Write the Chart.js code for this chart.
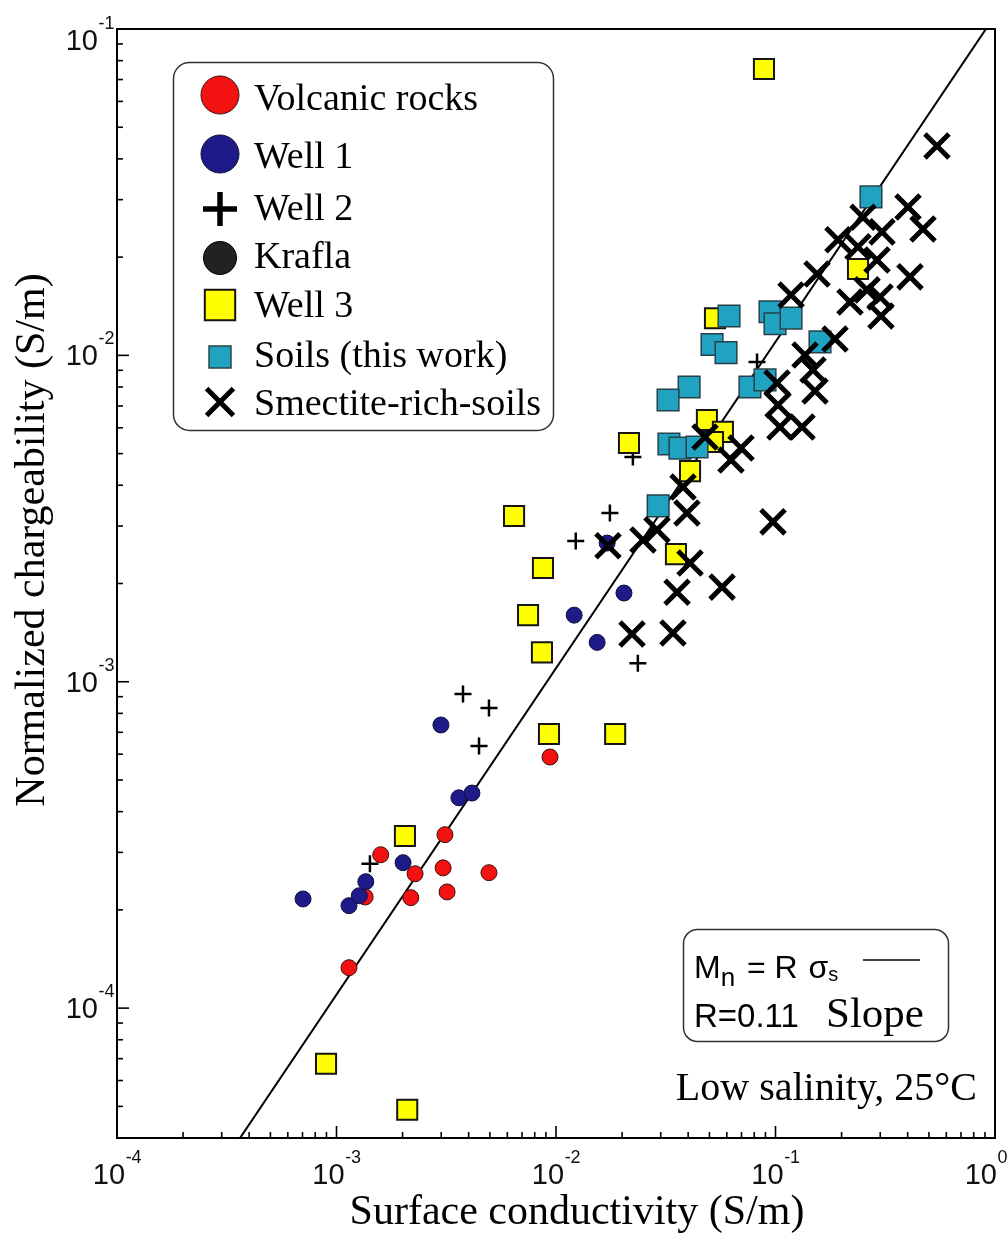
<!DOCTYPE html>
<html><head><meta charset="utf-8">
<script src="https://cdn.jsdelivr.net/npm/chart.js@4/dist/chart.umd.min.js"></script>
<style>html,body{margin:0;padding:0;background:#fff}#wrap{width:1008px;height:1238px}</style>
</head><body><div id="wrap"><canvas id="c" width="1008" height="1238"></canvas></div>
<script>
// ---------- DATA ----------
const seriesNames = ['Volcanic rocks','Well 1','Well 2','Krafla','Well 3','Soils (this work)','Smectite-rich-soils'];
const xTickExponents = [-4,-3,-2,-1,0];
const yTickExponents = [-4,-3,-2,-1];
const xTitle = 'Surface conductivity (S/m)';
const yTitle = 'Normalized chargeability (S/m)';
const fitR = 0.11;
const fitX = [3.0e-4, 1.0];

const volcanicRocks = [[1.14e-3,1.33e-4],[1.35e-3,2.19e-4],[1.59e-3,2.95e-4],[2.18e-3,2.18e-4],[2.28e-3,2.58e-4],
  [3.06e-3,2.69e-4],[3.12e-3,3.40e-4],[3.19e-3,2.27e-4],[4.95e-3,2.60e-4],[9.39e-3,5.88e-4]];
const well1 = [[7.04e-4,2.16e-4],[1.14e-3,2.06e-4],[1.27e-3,2.21e-4],[1.36e-3,2.44e-4],[2.01e-3,2.79e-4],
  [2.99e-3,7.37e-4],[3.61e-3,4.41e-4],[4.14e-3,4.56e-4],[1.21e-2,1.60e-3],[1.54e-2,1.32e-3],[1.71e-2,2.66e-3],[2.04e-2,1.87e-3]];
const well2 = [[1.42e-3,2.77e-4],[3.77e-3,9.18e-4],[4.46e-3,6.36e-4],[4.95e-3,8.31e-4],[1.23e-2,2.70e-3],
  [1.76e-2,3.29e-3],[2.24e-2,4.88e-3],[2.36e-2,1.14e-3],[8.24e-2,9.54e-3]];
const krafla = [];
const well3 = [[8.86e-2,7.54e-2],[0.2376,1.84e-2],[5.30e-2,1.30e-2],[2.15e-2,5.39e-3],[4.87e-2,6.34e-3],[5.76e-2,5.83e-3],
  [5.19e-2,5.43e-3],[4.08e-2,4.42e-3],[6.44e-3,3.22e-3],[8.72e-3,2.23e-3],[7.46e-3,1.60e-3],[8.63e-3,1.23e-3],
  [3.52e-2,2.46e-3],[9.29e-3,6.92e-4],[1.86e-2,6.92e-4],[2.05e-3,3.37e-4],[8.96e-4,6.75e-5],[2.10e-3,4.88e-5]];
const soils = [[0.2723,3.06e-2],[6.14e-2,1.32e-2],[9.44e-2,1.36e-2],[9.95e-2,1.25e-2],[0.1177,1.30e-2],[0.1595,1.10e-2],
  [5.14e-2,1.08e-2],[5.95e-2,1.02e-2],[4.04e-2,8.00e-3],[3.24e-2,7.30e-3],[7.65e-2,8.00e-3],[8.96e-2,8.41e-3],
  [3.27e-2,5.35e-3],[3.67e-2,5.20e-3],[4.39e-2,5.24e-3],[2.92e-2,3.46e-3]];
const smectite = [[0.544,4.38e-2],[0.4015,2.85e-2],[0.47,2.44e-2],[0.2504,2.65e-2],[0.3056,2.39e-2],[0.1926,2.26e-2],
  [0.2376,2.15e-2],[0.29,1.96e-2],[0.41,1.74e-2],[0.1546,1.776e-2],[0.1177,1.531e-2],[0.2185,1.458e-2],
  [0.2612,1.587e-2],[0.2993,1.51e-2],[0.3024,1.32e-2],[0.1867,1.122e-2],[0.1363,1.003e-2],[0.1482,9.02e-3],
  [0.1514,7.78e-3],[0.1016,8.23e-3],[0.1027,7.05e-3],[0.1048,6.03e-3],[0.1321,6.03e-3],[4.774e-2,5.62e-3],
  [6.965e-2,5.20e-3],[6.27e-2,4.78e-3],[3.79e-2,3.95e-3],[3.95e-2,3.29e-3],[2.884e-2,2.92e-3],[2.491e-2,2.72e-3],
  [1.725e-2,2.61e-3],[4.08e-2,2.31e-3],[5.71e-2,1.95e-3],[3.56e-2,1.88e-3],[9.74e-2,3.09e-3],[2.22e-2,1.40e-3],[3.41e-2,1.41e-3]];

// ---------- CHART ----------
const toXY = arr => arr.map(p => ({x:p[0], y:p[1]}));
const fitLine = fitX.map(v => ({x:v, y:fitR*v}));

const styles = [
  {pointStyle:'circle', radius:8, bg:'#f21212', border:'#3a1010', bw:1, order:6},
  {pointStyle:'circle', radius:8, bg:'#1e1a88', border:'#10103a', bw:1, order:5},
  {pointStyle:'cross', radius:8.5, bg:'#000', border:'#000', bw:2.5, order:3},
  {pointStyle:'circle', radius:8, bg:'#222222', border:'#000', bw:1, order:4},
  {pointStyle:'rect', radius:14.2, bg:'#ffff00', border:'#151515', bw:2, order:2},
  {pointStyle:'rect', radius:15.3, bg:'#1fa3c1', border:'#27414a', bw:1.5, order:1},
  {pointStyle:'crossRot', radius:17, bg:'#000', border:'#000', bw:5, order:0}
];
const seriesData = [volcanicRocks, well1, well2, krafla, well3, soils, smectite];

const datasets = seriesData.map((d,i) => ({
  label: seriesNames[i], data: toXY(d), order: styles[i].order,
  pointStyle: styles[i].pointStyle, pointRadius: styles[i].radius,
  backgroundColor: styles[i].bg, borderColor: styles[i].border, borderWidth: styles[i].bw,
  pointBackgroundColor: styles[i].bg, pointBorderColor: styles[i].border, pointBorderWidth: styles[i].bw,
  showLine:false
}));
datasets.push({label:'fit', data: fitLine, order: 7, showLine:true, pointRadius:0, borderColor:'#000',
  borderWidth:2, backgroundColor:'#000', fill:false});

const legendMarkers = [
  {radius:19, bw:1}, {radius:19, bw:1}, {radius:17, bw:5.5}, {radius:16.5, bw:1},
  {radius:21.5, bw:2}, {radius:15.5, bw:1.5}, {radius:19, bw:5}
];

function drawSup(ctx, base, sup, x, y, align) {
  ctx.font = '29px "Liberation Sans", Arial, sans-serif';
  const w1 = ctx.measureText(base).width;
  ctx.font = '18px "Liberation Sans", Arial, sans-serif';
  const w2 = ctx.measureText(sup).width;
  let start = align === 'center' ? x - (w1 + w2) / 2 : x - w1 - w2;
  start = Math.min(start, 1007 - w1 - w2);
  ctx.textAlign = 'left'; ctx.textBaseline = 'alphabetic';
  ctx.font = '29px "Liberation Sans", Arial, sans-serif';
  ctx.fillText(base, start, y);
  ctx.font = '18px "Liberation Sans", Arial, sans-serif';
  ctx.fillText(sup, start + w1 + 0.5, y - 21);
}

const decor = {
  id:'decor',
  afterDraw(chart) {
    const {ctx, chartArea:a, scales} = chart;
    const xs = scales.x, ys = scales.y;
    ctx.save();
    ctx.fillStyle = '#000'; ctx.strokeStyle = '#000';
    // frame
    ctx.lineWidth = 2;
    ctx.strokeRect(a.left, a.top, a.right - a.left, a.bottom - a.top);
    // ticks
    ctx.lineWidth = 1.6;
    for (let e = -5; e <= 0; e++) {
      for (let k = 1; k <= 9; k++) {
        const v = k * Math.pow(10, e);
        const len = k === 1 ? 12 : 6;
        if (v >= xs.min * 0.999 && v <= xs.max * 1.001) {
          const px = xs.getPixelForValue(v);
          ctx.beginPath(); ctx.moveTo(px, a.bottom); ctx.lineTo(px, a.bottom - len); ctx.stroke();
        }
        if (v >= ys.min * 0.999 && v <= ys.max * 1.001) {
          const py = ys.getPixelForValue(v);
          ctx.beginPath(); ctx.moveTo(a.left, py); ctx.lineTo(a.left + len, py); ctx.stroke();
        }
      }
    }
    // tick labels
    ctx.fillStyle = '#111';
    xTickExponents.forEach(e => {
      const px = xs.getPixelForValue(Math.pow(10, e));
      drawSup(ctx, '10', String(e), px, 1184, 'center');
    });
    yTickExponents.forEach(e => {
      const py = ys.getPixelForValue(Math.pow(10, e));
      const c = Math.max(py, 40);
      drawSup(ctx, '10', String(e), 114, c + 10, 'right');
    });
    // axis titles
    ctx.fillStyle = '#000';
    ctx.font = '42px "Liberation Serif", "Times New Roman", serif';
    ctx.textAlign = 'center'; ctx.textBaseline = 'middle';
    ctx.fillText(xTitle, 577, 1213);
    ctx.save(); ctx.translate(33, 540); ctx.rotate(-Math.PI / 2);
    ctx.fillText(yTitle, 0, 0); ctx.restore();

    // legend box
    ctx.beginPath(); ctx.roundRect(173.5, 62.5, 380, 368, 16);
    ctx.fillStyle = '#fff'; ctx.fill();
    ctx.lineWidth = 1.5; ctx.strokeStyle = '#333'; ctx.stroke();
    const markerY = [95, 154, 209, 258, 305, 357, 402];
    const textY = [110, 168, 220, 268, 317, 367, 415];
    seriesNames.forEach((name, i) => {
      const st = styles[i], lm = legendMarkers[i];
      ctx.save();
      ctx.fillStyle = st.bg; ctx.strokeStyle = st.border; ctx.lineWidth = lm.bw;
      Chart.helpers.drawPoint(ctx, {pointStyle: st.pointStyle, rotation: 0, radius: lm.radius, borderWidth: lm.bw}, 220, markerY[i]);
      ctx.restore();
      ctx.fillStyle = '#000';
      ctx.font = '38px "Liberation Serif", "Times New Roman", serif';
      ctx.textAlign = 'left'; ctx.textBaseline = 'alphabetic';
      ctx.fillText(name, 254, textY[i]);
    });

    // fit box
    ctx.beginPath(); ctx.roundRect(683.5, 929.5, 265, 112, 14);
    ctx.fillStyle = '#fff'; ctx.fill();
    ctx.lineWidth = 1.5; ctx.strokeStyle = '#333'; ctx.stroke();
    ctx.fillStyle = '#000'; ctx.textAlign = 'left'; ctx.textBaseline = 'alphabetic';
    const sans = '"Liberation Sans", Arial, sans-serif';
    let cx = 694;
    ctx.font = '32px ' + sans; ctx.fillText('M', cx, 978); cx += ctx.measureText('M').width;
    ctx.font = '26px ' + sans; ctx.fillText('n', cx, 986); cx += ctx.measureText('n').width + 3;
    ctx.font = '32px ' + sans; ctx.fillText(' = R ', cx, 978); cx += ctx.measureText(' = R ').width + 2;
    ctx.fillText('\u03C3', cx, 978); cx += ctx.measureText('\u03C3').width;
    ctx.font = '20px ' + sans; ctx.fillText('s', cx, 981);
    ctx.lineWidth = 1.5; ctx.strokeStyle = '#000';
    ctx.beginPath(); ctx.moveTo(863, 960); ctx.lineTo(920, 960); ctx.stroke();
    ctx.font = '33px ' + sans; ctx.fillText('R=0.' + '11', 694, 1027);
    ctx.font = '43px "Liberation Serif", "Times New Roman", serif';
    ctx.fillText('Slope', 826, 1027);
    ctx.font = '40px "Liberation Serif", "Times New Roman", serif';
    ctx.textAlign = 'right';
    ctx.fillText('Low salinity, 25\u00B0C', 977, 1100);
    ctx.restore();
  }
};

new Chart(document.getElementById('c'), {
  type:'scatter',
  data:{datasets},
  options:{
    responsive:false, animation:false, devicePixelRatio:1, events:[],
    layout:{autoPadding:false, padding:{left:117, right:13, top:29, bottom:100}},
    plugins:{legend:{display:false}, tooltip:{enabled:false}},
    scales:{
      x:{type:'logarithmic', min:1e-4, max:1, display:false},
      y:{type:'logarithmic', min:4e-5, max:0.1, display:false}
    }
  },
  plugins:[decor]
});
</script>
</body></html>
